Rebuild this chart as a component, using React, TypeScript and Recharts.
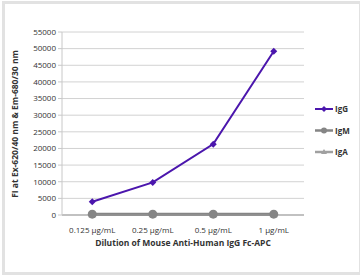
import {
  LineChart,
  Line,
  XAxis,
  YAxis,
  CartesianGrid,
  Legend,
  Label,
} from "recharts";

const categories = ["0.125 µg/mL", "0.25 µg/mL", "0.5 µg/mL", "1 µg/mL"];
const igG = [4000, 9800, 21300, 49200];
const igM = [250, 250, 250, 250];
const igA = [150, 150, 150, 150];
const yTicks = [0, 5000, 10000, 15000, 20000, 25000, 30000, 35000, 40000, 45000, 50000, 55000];

const PURPLE = "#4b16ad";
const GRAY_M = "#858585";
const GRAY_A = "#a0a0a0";

const data = categories.map((c, i) => ({
  name: c,
  IgG: igG[i],
  IgM: igM[i],
  IgA: igA[i],
}));

const Diamond = (props: any) => {
  const { cx, cy } = props;
  if (cx == null || cy == null) return null;
  const r = 3.5;
  return (
    <polygon
      points={`${cx},${cy - r} ${cx + r},${cy} ${cx},${cy + r} ${cx - r},${cy}`}
      fill={PURPLE}
    />
  );
};

const Circle = (props: any) => {
  const { cx, cy } = props;
  if (cx == null || cy == null) return null;
  return <circle cx={cx} cy={cy} r={4.5} fill={GRAY_M} />;
};

const Triangle = (props: any) => {
  const { cx, cy } = props;
  if (cx == null || cy == null) return null;
  const r = 4;
  return (
    <polygon
      points={`${cx},${cy - r} ${cx + r},${cy + r * 0.7} ${cx - r},${cy + r * 0.7}`}
      fill={GRAY_A}
    />
  );
};

const legendItems = [
  { name: "IgG", color: PURPLE, shape: "diamond" },
  { name: "IgM", color: GRAY_M, shape: "circle" },
  { name: "IgA", color: GRAY_A, shape: "triangle" },
];

const LegendContent = () => (
  <svg width={42} height={60}>
    {legendItems.map((it, i) => {
      const y = 5 + i * 21.5;
      return (
        <g key={it.name}>
          <line x1={0} x2={18} y1={y} y2={y} stroke={it.color} strokeWidth={it.shape === "diamond" ? 2 : 2.5} />
          {it.shape === "diamond" && (
            <polygon points={`9,${y - 3} 12,${y} 9,${y + 3} 6,${y}`} fill={it.color} />
          )}
          {it.shape === "circle" && <circle cx={9} cy={y} r={3} fill={it.color} />}
          {it.shape === "triangle" && (
            <polygon points={`9,${y - 3} 12,${y + 2} 6,${y + 2}`} fill={it.color} />
          )}
          <text
            x={20}
            y={y + 3}
            fontSize={8}
            fontWeight="bold"
            fill="#333"
            fontFamily="'Open Sans', sans-serif"
          >
            {it.name}
          </text>
        </g>
      );
    })}
  </svg>
);

export default function App() {
  return (
    <div style={{ position: "relative", width: 360, height: 277, background: "#fff" }}>
      <style>{"body{margin:0}"}</style>
      <div
        style={{
          position: "absolute",
          left: 2,
          top: 1,
          width: 360,
          height: 274,
          boxSizing: "border-box",
          border: "3px solid #e2e2e2",
        }}
      />
      <div style={{ position: "absolute", left: 0, top: 0 }}>
        <LineChart
          width={360}
          height={277}
          data={data}
          margin={{ top: 32, right: 56, left: 10, bottom: 32 }}
          style={{ fontFamily: "'Open Sans', sans-serif" }}
        >
          <CartesianGrid vertical={false} stroke="#d2d2d2" strokeWidth={1} />
          <XAxis
            dataKey="name"
            scale="band"
            height={30}
            tick={{ fontSize: 8, fill: "#333" }}
            tickLine={false}
            axisLine={{ stroke: "#999" }}
            tickMargin={6}
          >
            <Label
              content={() => (
                <text
                  x={183}
                  y={246}
                  textAnchor="middle"
                  fontSize={8.5}
                  fontWeight="bold"
                  fill="#333"
                  fontFamily="'Open Sans', sans-serif"
                >
                  Dilution of Mouse Anti-Human IgG Fc-APC
                </text>
              )}
            />
          </XAxis>
          <YAxis
            width={52}
            domain={[0, 55000]}
            ticks={yTicks}
            interval={0}
            tick={{ fontSize: 8, fill: "#333" }}
            tickLine={{ stroke: "#c8c8c8" }}
            tickSize={4}
            axisLine={{ stroke: "#c8c8c8" }}
          >
            <Label
              content={() => (
                <text
                  x={18}
                  y={124}
                  transform="rotate(-90 18 124)"
                  textAnchor="middle"
                  fontSize={8.5}
                  fontWeight="bold"
                  fill="#333"
                  fontFamily="'Open Sans', sans-serif"
                >
                  FI at Ex-620/40 nm &amp; Em-680/30 nm
                </text>
              )}
            />
          </YAxis>
          <Legend
            layout="vertical"
            align="center"
            verticalAlign="middle"
            content={LegendContent}
            wrapperStyle={{ left: 315, top: 104, width: 42, height: 60 }}
          />
          <Line
            dataKey="IgA"
            stroke={GRAY_A}
            strokeWidth={3}
            dot={<Triangle />}
            activeDot={false}
            isAnimationActive={false}
          />
          <Line
            dataKey="IgM"
            stroke={GRAY_M}
            strokeWidth={3}
            dot={<Circle />}
            activeDot={false}
            isAnimationActive={false}
          />
          <Line
            dataKey="IgG"
            stroke={PURPLE}
            strokeWidth={2}
            dot={<Diamond />}
            activeDot={false}
            isAnimationActive={false}
          />
        </LineChart>
      </div>
    </div>
  );
}
